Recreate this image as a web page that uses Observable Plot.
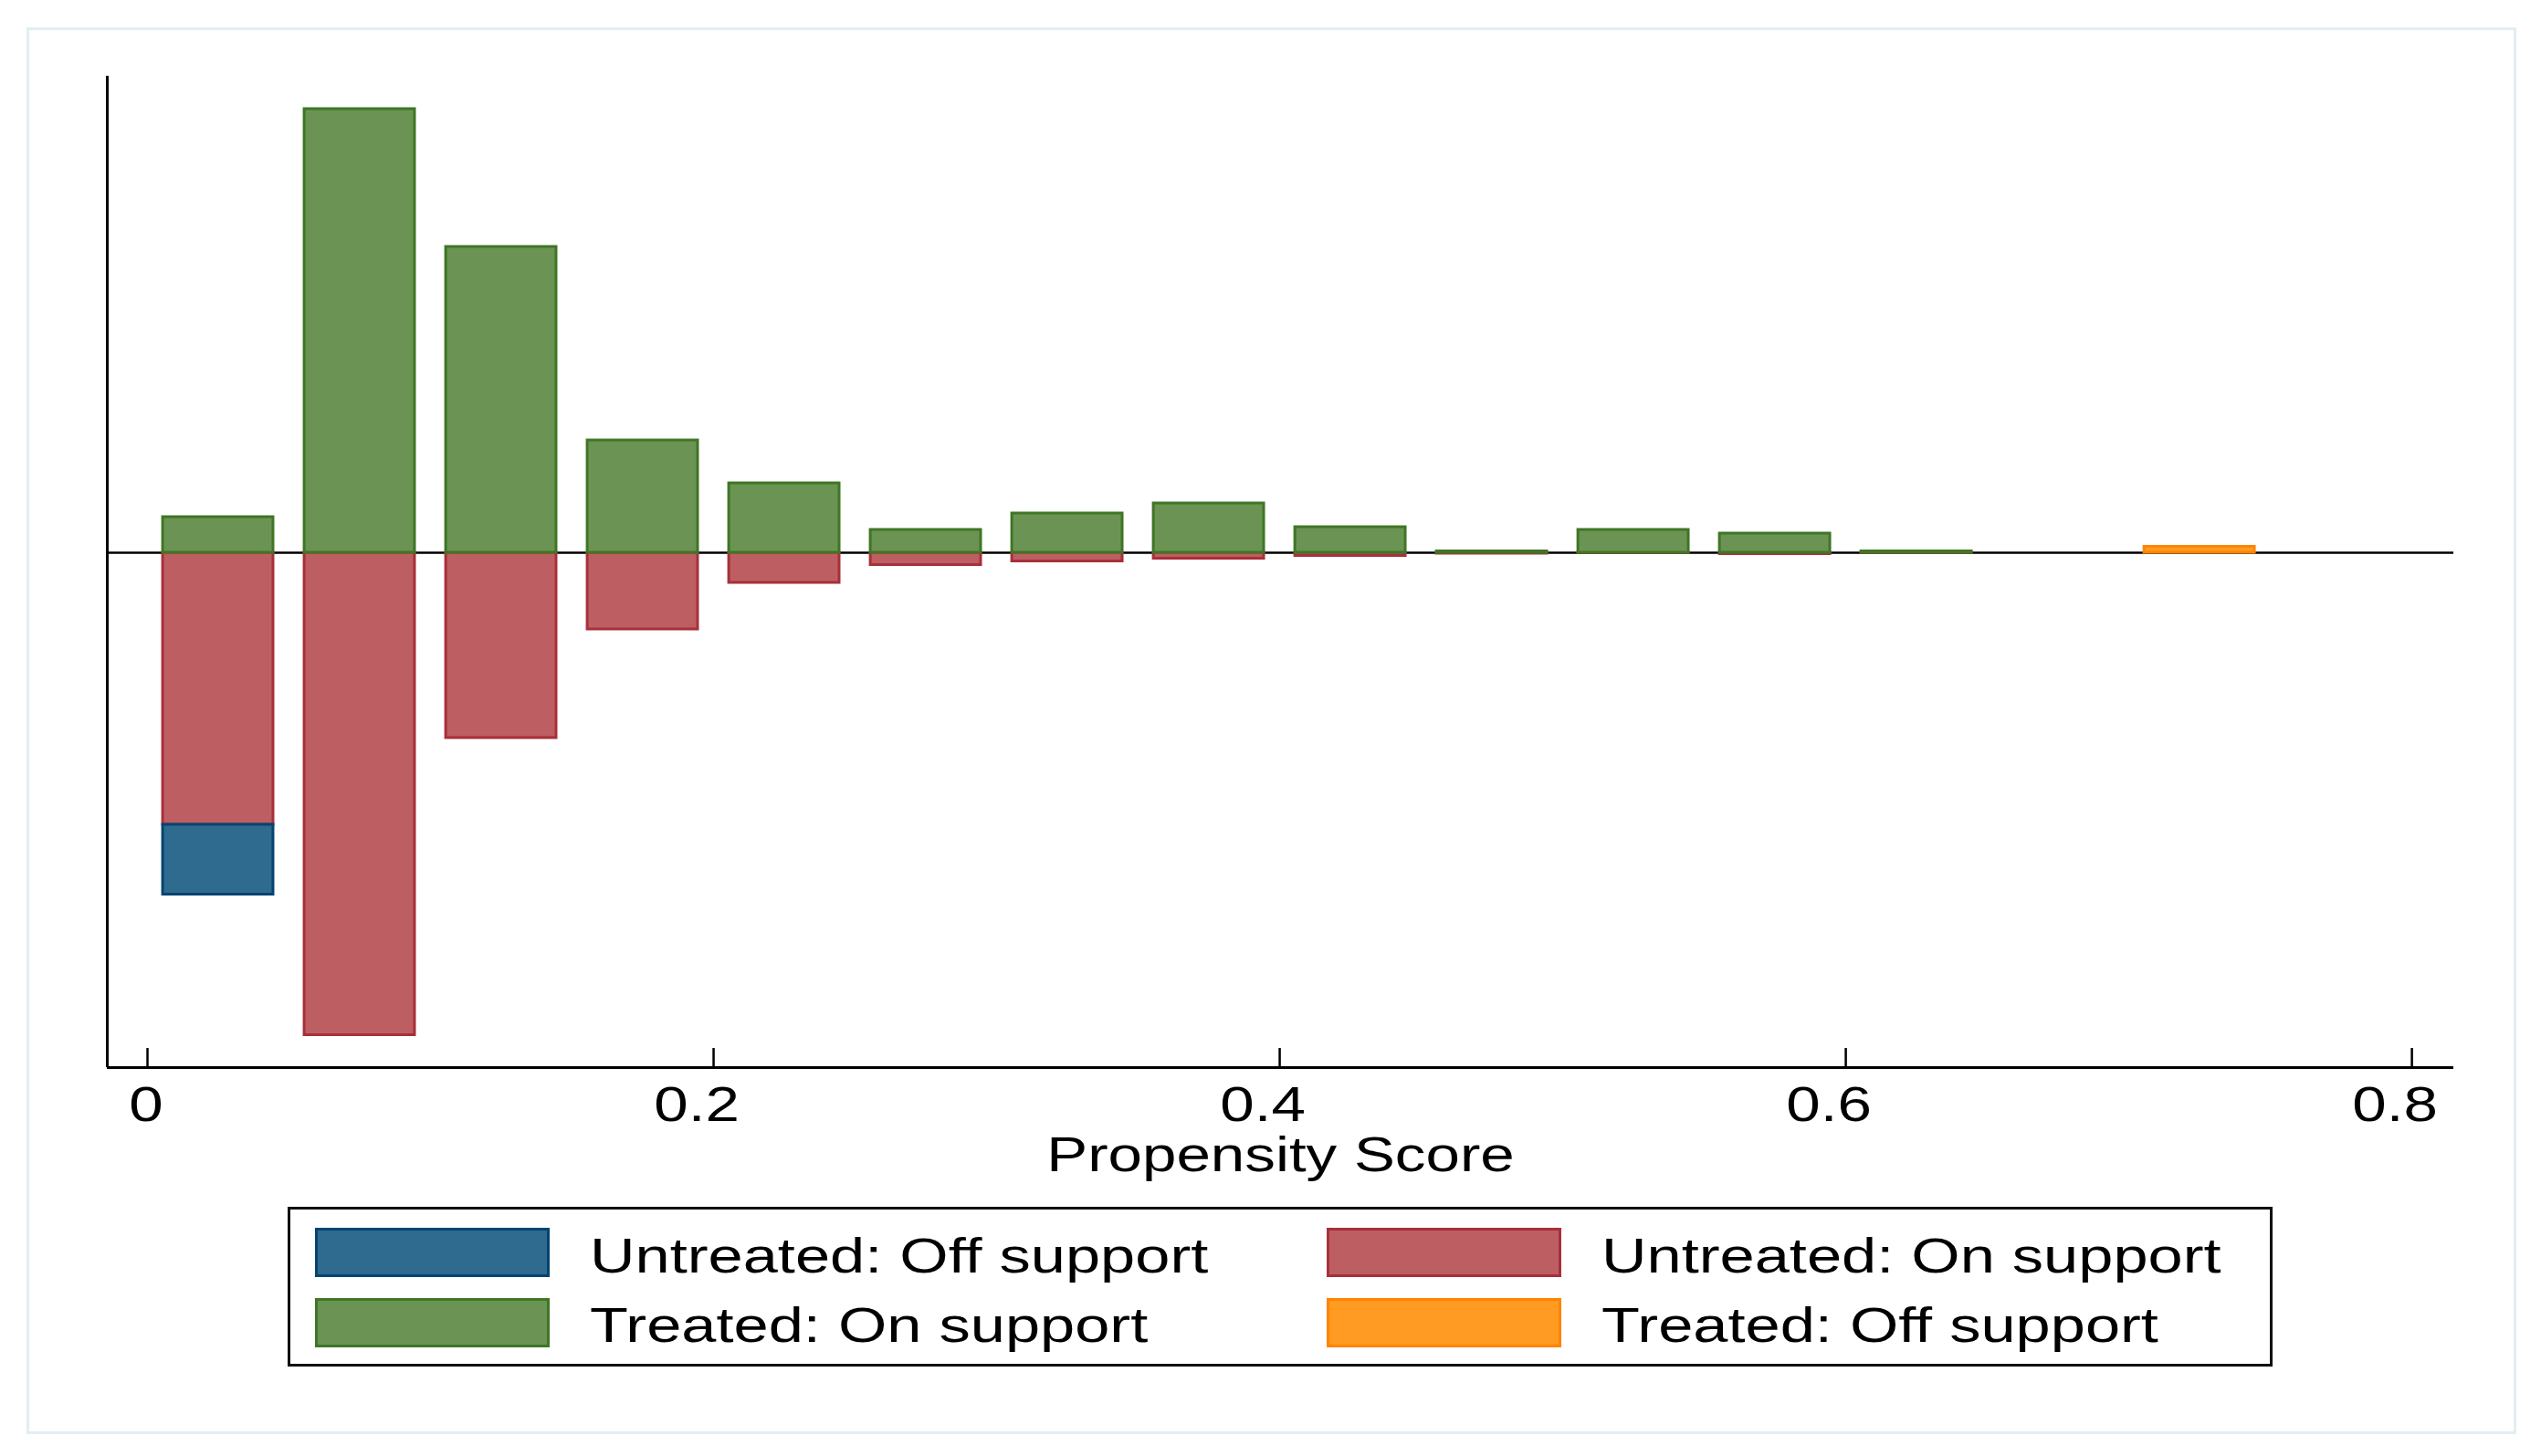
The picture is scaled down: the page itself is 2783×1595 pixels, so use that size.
<!DOCTYPE html>
<html><head><meta charset="utf-8">
<script src="https://cdn.jsdelivr.net/npm/d3@7"></script>
<script src="https://cdn.jsdelivr.net/npm/@observablehq/plot@0.6"></script>
<style>
html,body{margin:0;padding:0;background:#fff;}
body{width:2783px;height:1595px;position:relative;overflow:hidden;font-family:"Liberation Sans",Arial,sans-serif;}
#frame{position:absolute;left:29px;top:30px;width:2727px;height:1541px;border:3px solid #e2eef1;box-sizing:border-box;}
#chart{position:absolute;left:0;top:0;}
#legend{position:absolute;left:315px;top:1322px;width:2174px;height:175px;border:3px solid #111;box-sizing:border-box;background:#fff;}
.sw{position:absolute;box-sizing:border-box;border:3px solid;width:257px;height:54px;}
.lt{position:absolute;font-size:54px;line-height:54px;white-space:nowrap;transform:scaleX(1.27);transform-origin:0 0;color:#000;}
</style></head><body>
<div id="frame"></div><div id="chart"></div><div id="legend"></div>
<script>
// bin midpoints of the propensity-score histogram
const binMid = [0.025,0.075,0.125,0.175,0.225,0.275,0.325,0.375,0.425,0.475,0.525,0.575,0.625,0.675,0.725,0.775];
// bar heights (treated plotted above zero, untreated below)
const treatedOn    = [0.39,4.86,3.35,1.23,0.76,0.25,0.43,0.54,0.28,0.015,0.25,0.21,0.015,0,0,0];
const treatedOff   = [0,0,0,0,0,0,0,0,0,0,0,0,0,0,0.065,0];
const untreatedOn  = [2.98,5.285,2.03,0.84,0.33,0.135,0.095,0.065,0.035,0.01,0.003,0.015,0.005,0,0,0];
const untreatedOff = [0.765,0,0,0,0,0,0,0,0,0,0,0,0,0,0,0];
const xTicks = [0,0.2,0.4,0.6,0.8];
const xTickLabels = ["0","0.2","0.4","0.6","0.8"];
const groups  = ["Untreated: Off support","Untreated: On support","Treated: On support","Treated: Off support"];
const fills   = ["#2e6b8f","#bd5e63","#6b9454","#ff9a22"];
const strokes = ["#05446f","#a7303a","#3f7625","#ff8400"];

const barHalf = 0.0195;
const xDomain = [-0.0142, 0.8148];
const yDomain = [-5.64, 5.22];

const rows = [];
binMid.forEach((m,i)=>{
  const x1 = m - barHalf, x2 = m + barHalf;
  if (untreatedOn[i] > 0) rows.push({x1, x2, y1: 0, y2: -untreatedOn[i], g: groups[1]});
  if (untreatedOff[i] > 0) rows.push({x1, x2, y1: -untreatedOn[i], y2: -untreatedOn[i]-untreatedOff[i], g: groups[0]});
  if (treatedOn[i] > 0) rows.push({x1, x2, y1: 0, y2: treatedOn[i], g: groups[2]});
  if (treatedOff[i] > 0) rows.push({x1, x2, y1: treatedOn[i], y2: treatedOn[i]+treatedOff[i], g: groups[3]});
});

const drawOrder = [1,0,2,3];
const barMarks = drawOrder.map(k => Plot.rect(rows.filter(d => d.g === groups[k]), {
  x1: "x1", x2: "x2", y1: "y1", y2: "y2", fill: fills[k], stroke: strokes[k], strokeWidth: 3
}));

const chart = Plot.plot({
  width: 2783, height: 1320,
  marginTop: 83, marginLeft: 117, marginRight: 96, marginBottom: 151,
  x: {domain: xDomain},
  y: {domain: yDomain, axis: null},
  style: {fontFamily: "'Liberation Sans', Arial, sans-serif", fontSize: "53px", background: "transparent", overflow: "visible", color: "#000"},
  marks: [
    Plot.ruleY([0], {stroke: "#000", strokeWidth: 2.5}),
    ...barMarks,
    Plot.ruleX([xDomain[0]], {stroke: "#000", strokeWidth: 3}),
    Plot.ruleY([yDomain[0]], {stroke: "#000", strokeWidth: 3}),
    Plot.axisX(xTicks, {tickSize: -21, tickPadding: 42, strokeWidth: 2.5, fontSize: 53,
      tickFormat: d => xTickLabels[xTicks.indexOf(d)],
      label: "Propensity Score", labelAnchor: "center", labelOffset: 113, labelArrow: false})
  ]
});

// horizontally stretched lettering as in the reference (decimal tick labels sit slightly left of their tick)
chart.querySelectorAll("text").forEach(t => {
  const isTick = xTickLabels.includes(t.textContent);
  const shift = isTick ? (t.textContent.length > 1 ? -18.5 : -1.5) : 0;
  const tr = t.getAttribute("transform");
  if (tr) t.setAttribute("transform", tr + ` translate(${shift},0) scale(1.27,1)`);
  else {
    const x = +(t.getAttribute("x") || 0), y = t.getAttribute("y") || 0;
    t.removeAttribute("x"); t.removeAttribute("y");
    t.setAttribute("transform", `translate(${x + shift},${y}) scale(1.27,1)`);
  }
});
document.getElementById("chart").appendChild(chart);

// legend
const legend = document.getElementById("legend");
const legendOrder = [0,1,2,3];
const colX = [[27,328],[1135,1436]];
const rowY = [[20,23],[97,99]];
legendOrder.forEach((k, j) => {
  const c = j % 2, r = Math.floor(j / 2);
  const sw = document.createElement("div");
  sw.className = "sw";
  sw.style.left = colX[c][0] + "px"; sw.style.top = rowY[r][0] + "px";
  sw.style.background = fills[k]; sw.style.borderColor = strokes[k];
  legend.appendChild(sw);
  const tx = document.createElement("div");
  tx.className = "lt";
  tx.style.left = colX[c][1] + "px"; tx.style.top = rowY[r][1] + "px";
  tx.textContent = groups[k];
  legend.appendChild(tx);
});
</script>
</body></html>
